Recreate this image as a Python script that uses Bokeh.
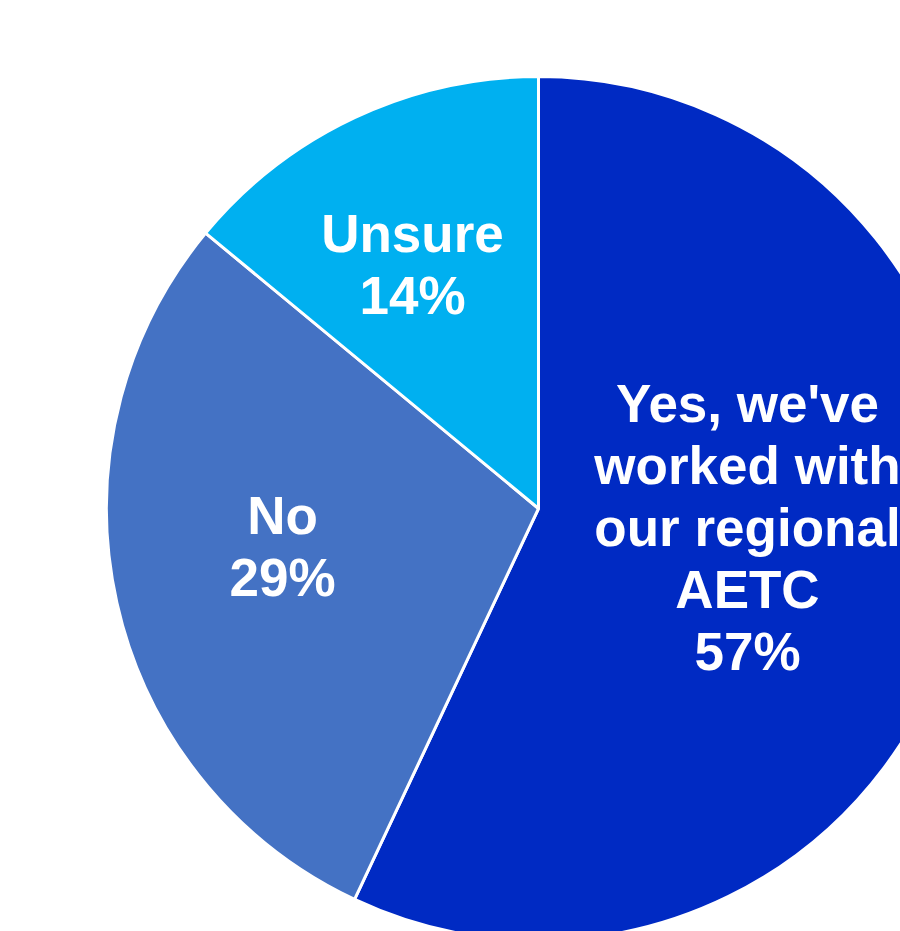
from bokeh.plotting import figure
from bokeh.models import ColumnDataSource, Range1d
from bokeh.embed import file_html
from bokeh.resources import INLINE
from bokeh.core.properties import value
import math

# ---- data ----
categories = ["Yes, we've\nworked with\nour regional\nAETC", "No", "Unsure"]
shares = [57, 29, 14]
colors = ["#002AC3", "#4472C4", "#00B0F0"]

# ---- layout ----
W, H = 900, 931
CX, CY, R = 538, 423, 432
label_pos = [(747, 404), (282, 385), (412, 667)]

total = sum(shares)
starts, ends = [], []
cum = 0.0
for s in shares:
    starts.append(math.pi / 2 - 2 * math.pi * cum / total)
    cum += s
    ends.append(math.pi / 2 - 2 * math.pi * cum / total)

src = ColumnDataSource(dict(
    x=[CX] * len(shares), y=[CY] * len(shares),
    start=starts, end=ends, color=colors,
))

p = figure(width=W, height=H, output_backend="svg", toolbar_location=None,
           x_range=Range1d(0, W), y_range=Range1d(0, H),
           min_border=0, outline_line_color=None)
p.axis.visible = False
p.grid.visible = False
p.background_fill_color = "white"
p.border_fill_color = "white"

p.wedge(x="x", y="y", radius=R, start_angle="start", end_angle="end",
        direction="clock", fill_color="color", line_color="white",
        line_width=3, source=src)

lsrc = ColumnDataSource(dict(
    x=[lp[0] for lp in label_pos], y=[lp[1] for lp in label_pos],
    text=[f"{c}\n{s}%" for c, s in zip(categories, shares)],
))
p.text(x="x", y="y", text="text", source=lsrc, text_color="white",
       text_font=value("Liberation Sans"), text_font_style="bold",
       text_font_size="53px", text_align="center", text_baseline="middle",
       text_line_height=1.05)

open("out.html", "w").write(file_html(p, INLINE))
